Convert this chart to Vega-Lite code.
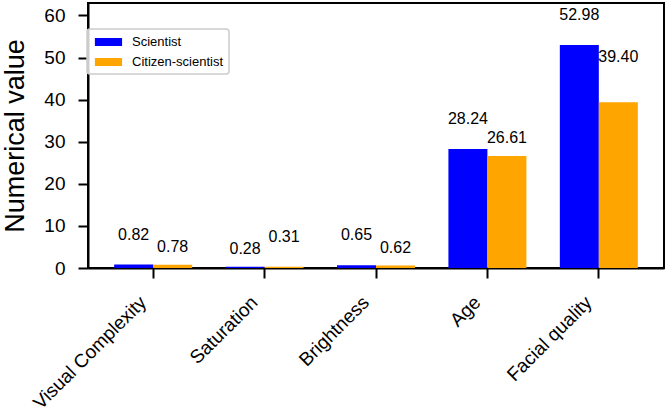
{
  "$schema": "https://vega.github.io/schema/vega-lite/v6.json",
  "width": 576,
  "height": 265,
  "autosize": {"type": "none"},
  "padding": {"left": 88, "top": 3, "right": 6, "bottom": 149},
  "background": "white",
  "data": {
    "values": [
      {"category": "Visual Complexity", "group": "Scientist", "value": 0.82},
      {"category": "Visual Complexity", "group": "Citizen-scientist", "value": 0.78},
      {"category": "Saturation", "group": "Scientist", "value": 0.28},
      {"category": "Saturation", "group": "Citizen-scientist", "value": 0.31},
      {"category": "Brightness", "group": "Scientist", "value": 0.65},
      {"category": "Brightness", "group": "Citizen-scientist", "value": 0.62},
      {"category": "Age", "group": "Scientist", "value": 28.24},
      {"category": "Age", "group": "Citizen-scientist", "value": 26.61},
      {"category": "Facial quality", "group": "Scientist", "value": 52.98},
      {"category": "Facial quality", "group": "Citizen-scientist", "value": 39.40}
    ]
  },
  "encoding": {
    "x": {
      "field": "category",
      "type": "nominal",
      "sort": ["Visual Complexity", "Saturation", "Brightness", "Age", "Facial quality"],
      "scale": {"paddingInner": 0.3, "paddingOuter": 0.235},
      "axis": {
        "title": null,
        "labelAngle": -45,
        "labelAlign": "right",
        "labelBaseline": "middle",
        "labelOffset": -10,
        "labelPadding": 21
      }
    },
    "xOffset": {
      "field": "group",
      "type": "nominal",
      "scale": {"domain": ["Scientist", "Citizen-scientist"]}
    },
    "y": {
      "field": "value",
      "type": "quantitative",
      "scale": {"domain": [0, 62.95], "nice": false},
      "axis": {
        "title": "Numerical value",
        "titleFontSize": 27,
        "titleFontWeight": "normal",
        "titlePadding": 14,
        "values": [0, 10, 20, 30, 40, 50, 60],
        "labelPadding": 13
      }
    }
  },
  "layer": [
    {
      "mark": {"type": "bar"},
      "encoding": {
        "color": {
          "field": "group",
          "type": "nominal",
          "scale": {"domain": ["Scientist", "Citizen-scientist"], "range": ["#0000ff", "#ffa500"]},
          "legend": {
            "title": null,
            "orient": "none",
            "legendX": -1,
            "legendY": 26,
            "padding": 5,
            "symbolType": "M-0.64,-0.5H2.76V0.5H-0.64Z",
            "symbolSize": 256,
            "symbolStrokeWidth": 0,
            "labelOffset": 24,
            "rowPadding": 5,
            "labelFontSize": 13,
            "strokeColor": "#cccccc",
            "fillColor": "rgba(255,255,255,0.8)",
            "cornerRadius": 3
          }
        }
      }
    },
    {
      "transform": [
        {"filter": "(datum.group == 'Scientist' && datum.category != 'Saturation') || (datum.group == 'Citizen-scientist' && datum.category == 'Saturation')"}
      ],
      "mark": {"type": "text", "dy": -30, "fontSize": 16, "baseline": "middle", "color": "black"},
      "encoding": {"text": {"field": "value", "type": "quantitative", "format": ".2f"}}
    },
    {
      "transform": [
        {"filter": "(datum.group == 'Citizen-scientist' && datum.category != 'Saturation' && datum.category != 'Facial quality') || (datum.group == 'Scientist' && datum.category == 'Saturation')"}
      ],
      "mark": {"type": "text", "dy": -17.5, "fontSize": 16, "baseline": "middle", "color": "black"},
      "encoding": {"text": {"field": "value", "type": "quantitative", "format": ".2f"}}
    },
    {
      "transform": [
        {"filter": "datum.group == 'Citizen-scientist' && datum.category == 'Facial quality'"}
      ],
      "mark": {"type": "text", "dy": -45, "fontSize": 16, "baseline": "middle", "color": "black"},
      "encoding": {"text": {"field": "value", "type": "quantitative", "format": ".2f"}}
    }
  ],
  "config": {
    "font": "Liberation Sans",
    "view": {"stroke": "black", "strokeWidth": 2},
    "axis": {
      "grid": false,
      "domainColor": "black",
      "domainWidth": 2,
      "tickColor": "black",
      "tickWidth": 2,
      "tickSize": 10,
      "labelColor": "black",
      "labelFontSize": 19,
      "titleColor": "black",
      "labelFont": "Liberation Sans",
      "titleFont": "Liberation Sans"
    },
    "legend": {"labelFont": "Liberation Sans", "labelColor": "black", "strokeWidth": 1.5}
  }
}
